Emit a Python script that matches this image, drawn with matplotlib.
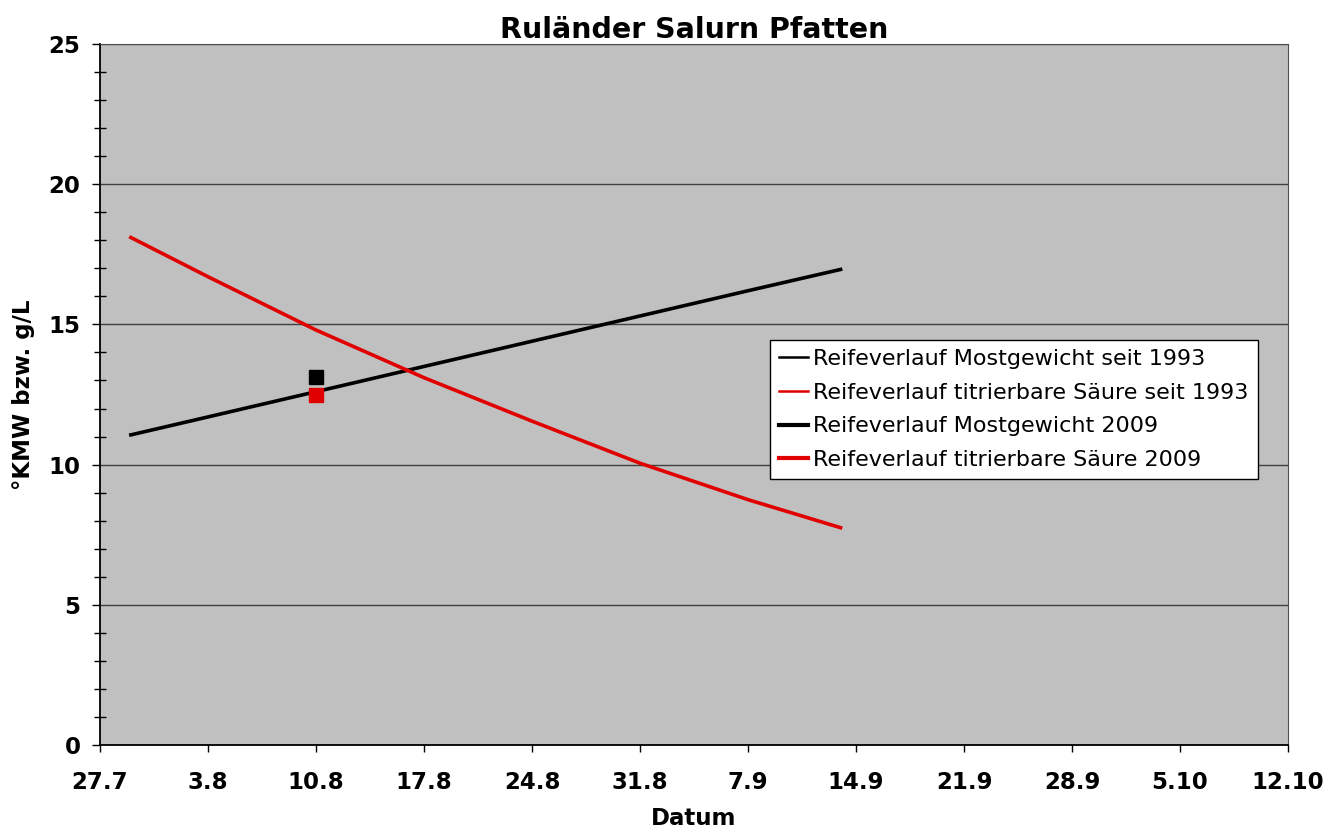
import numpy as np
import matplotlib.pyplot as plt
from matplotlib.ticker import MultipleLocator

# days counted from 27.7
tick_days = [0, 7, 14, 21, 28, 35, 42, 49, 56, 63, 70, 77]
tick_labels = ["27.7", "3.8", "10.8", "17.8", "24.8", "31.8", "7.9",
               "14.9", "21.9", "28.9", "5.10", "12.10"]

days_1993 = [2, 7, 14, 21, 28, 35, 42, 48]
most_1993 = [11.06, 11.7, 12.6, 13.5, 14.4, 15.3, 16.2, 16.96]
saeure_1993 = [18.1, 16.7, 14.8, 13.1, 11.55, 10.05, 8.75, 7.75]

days_2009 = [14]
most_2009 = [13.13]
saeure_2009 = [12.48]

fig = plt.figure(figsize=(13.42, 8.32), dpi=100)
ax = fig.add_axes([100/1342, 1-745/832, 1188/1342, 701/832])
ax.set_facecolor('#c0c0c0')

ax.plot(days_1993, most_1993, color='black', lw=2.6, label='Reifeverlauf Mostgewicht seit 1993')
ax.plot(days_1993, saeure_1993, color='#e00000', lw=2.6, label='Reifeverlauf titrierbare Säure seit 1993')
ax.plot(days_2009, most_2009, color='black', lw=3, marker='s', ms=10, label='Reifeverlauf Mostgewicht 2009')
ax.plot(days_2009, saeure_2009, color='#e00000', lw=3, marker='s', ms=10, label='Reifeverlauf titrierbare Säure 2009')

ax.set_xlim(0, 77)
ax.set_ylim(0, 25)
ax.set_xticks(tick_days)
ax.set_xticklabels(tick_labels)
ax.yaxis.set_major_locator(MultipleLocator(5))
ax.yaxis.set_minor_locator(MultipleLocator(1))
ax.grid(axis='y', which='major', color='#404040', lw=1)
ax.set_axisbelow(True)

for s in ['top', 'right']:
    ax.spines[s].set_color('#505050')
for s in ['left', 'bottom']:
    ax.spines[s].set_color('black')
    ax.spines[s].set_linewidth(1.3)

ax.tick_params(axis='y', which='major', direction='out', length=6, width=1, labelsize=16.5, pad=8)
ax.tick_params(axis='y', which='minor', direction='inout', length=9, width=1)
ax.tick_params(axis='x', which='major', direction='out', length=5, width=1, labelsize=16.5, pad=14)
for lab in ax.get_xticklabels() + ax.get_yticklabels():
    lab.set_fontweight('bold')

ax.set_title('Ruländer Salurn Pfatten', fontsize=20.5, fontweight='bold', pad=4)
ax.set_xlabel('Datum', fontsize=16.5, fontweight='bold', labelpad=9)
ax.set_ylabel('°KMW bzw. g/L', fontsize=16.5, fontweight='bold', labelpad=10)

leg = ax.legend(loc='upper left', bbox_to_anchor=(770/1342, 1-340/832),
                bbox_transform=fig.transFigure, borderaxespad=0, fontsize=16,
                frameon=True, fancybox=False, edgecolor='black', framealpha=1,
                handlelength=1.3, handletextpad=0.25, labelspacing=0.62,
                borderpad=0.4)
leg.get_frame().set_linewidth(1)
for h in leg.legend_handles:
    h.set_marker('')
for h in leg.legend_handles[:2]:
    h.set_linewidth(1.8)

fig.savefig('out.png', dpi=100)
